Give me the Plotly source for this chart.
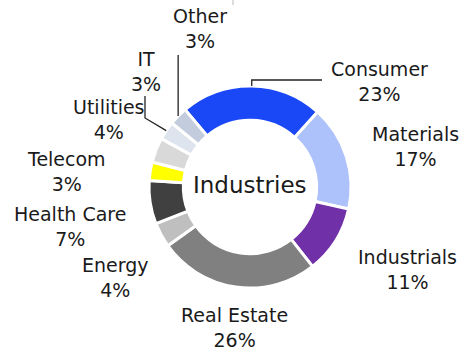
import math
import plotly.graph_objects as go

# Sector weights (percent), listed clockwise from the top slice
sectors = ["Consumer", "Materials", "Industrials", "Real Estate", "Energy",
           "Health Care", "Telecom", "Utilities", "IT", "Other"]
weights = [23, 17, 11, 26, 4, 7, 3, 4, 3, 3]
colors = ["#1A48F6", "#ADC1FA", "#7030A8", "#808080", "#BFBFBF",
          "#404040", "#FFFF00", "#D9D9D9", "#DEE4EE", "#C2CCDD"]

W, H = 463, 351
CX, CY, R = 250, 187, 101        # donut centre and outer radius in pixels
ROTATION = -40                   # start angle of the first slice (deg, clockwise from 12)
FONT = "DejaVu Sans"
TXT = "#1a1a1a"


def px(x):
    return x / W


def py(y):
    return 1 - y / H


fig = go.Figure(go.Pie(
    labels=sectors,
    values=weights,
    sort=False,
    direction="clockwise",
    rotation=ROTATION,
    hole=0.66,
    marker=dict(colors=colors, line=dict(color="white", width=3)),
    textinfo="none",
    hoverinfo="label+percent",
    showlegend=False,
    domain=dict(x=[px(CX - R), px(CX + R)], y=[py(CY + R), py(CY - R)]),
))

# Label block centres (pixels)
label_pos = {
    "Consumer": (379, 81),
    "Materials": (415, 146),
    "Industrials": (407, 269),
    "Real Estate": (234, 327),
    "Energy": (115, 277),
    "Health Care": (70, 226),
    "Telecom": (66, 171),
    "Utilities": (109, 119),
    "IT": (146, 72),
    "Other": (200, 29),
}

annotations = []
for name, w in zip(sectors, weights):
    x, y = label_pos[name]
    annotations.append(dict(
        x=px(x), y=py(y), xref="paper", yref="paper",
        text=f"{name}<br>{w}%", showarrow=False,
        font=dict(family=FONT, size=19, color=TXT),
        xanchor="center", yanchor="middle", align="center",
    ))

annotations.append(dict(
    x=px(CX), y=py(CY - 2), xref="paper", yref="paper",
    text="Industries", showarrow=False,
    font=dict(family=FONT, size=23, color=TXT),
    xanchor="center", yanchor="middle",
))


def slice_mid_point(name):
    """Outer-edge point at the middle of a slice, in pixels."""
    total = sum(weights)
    acc = 0
    for n, w in zip(sectors, weights):
        if n == name:
            ang = math.radians(ROTATION + (acc + w / 2) / total * 360)
            return CX + R * math.sin(ang), CY - R * math.cos(ang)
        acc += w
    raise KeyError(name)


line_style = dict(color="#222222", width=1.3)
shapes = []


def leader(points):
    path = "M " + " L ".join(f"{px(x)},{py(y)}" for x, y in points)
    shapes.append(dict(type="path", path=path, xref="paper", yref="paper",
                       line=line_style))


# Consumer: up from the slice, then right to the label
cx_, cy_ = slice_mid_point("Consumer")
leader([(cx_, cy_), (cx_, 80), (322, 80)])

# Other: straight up to the label
ox, oy = slice_mid_point("Other")
leader([(ox, oy), (ox, 55)])

# IT: diagonal from the slice, then up to the label
ix, iy = slice_mid_point("IT")
leader([(ix, iy), (145, 118), (145, 96)])

# small tick at the top edge
shapes.append(dict(type="line", xref="paper", yref="paper",
                   x0=px(233), x1=px(233), y0=py(0), y1=py(5),
                   line=dict(color="#bbbbbb", width=1)))

fig.update_layout(
    width=W, height=H,
    margin=dict(l=0, r=0, t=0, b=0),
    paper_bgcolor="white", plot_bgcolor="white",
    annotations=annotations,
    shapes=shapes,
)

fig.write_html("out.html")
